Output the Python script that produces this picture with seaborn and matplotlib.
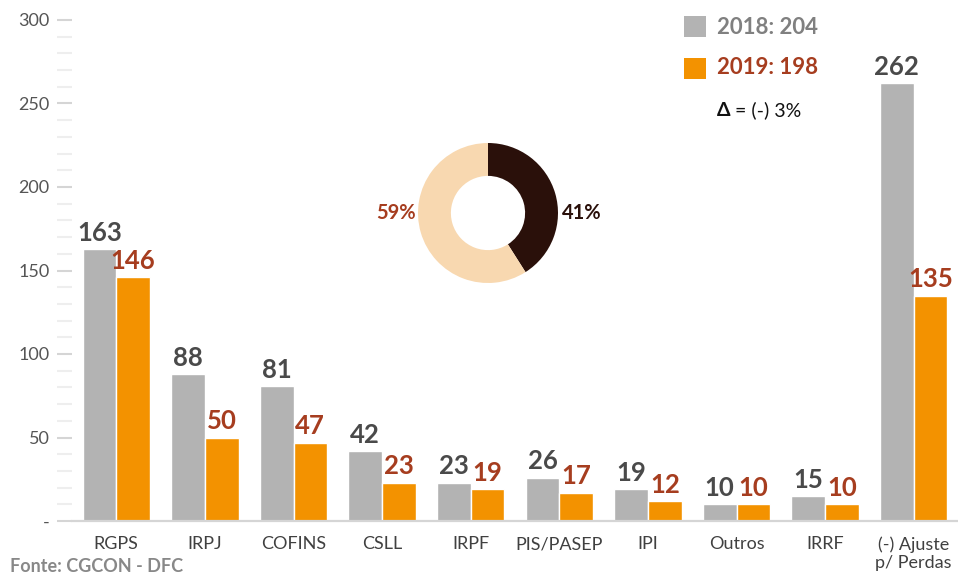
import matplotlib
matplotlib.use("Agg")
import matplotlib.pyplot as plt
from matplotlib.patches import Rectangle
from matplotlib.ticker import MultipleLocator
import seaborn as sns
import pandas as pd

categories = ["RGPS", "IRPJ", "COFINS", "CSLL", "IRPF", "PIS/PASEP", "IPI",
              "Outros", "IRRF", "(-) Ajuste\np/ Perdas"]
values_2018 = [163, 88, 81, 42, 23, 26, 19, 10, 15, 262]
values_2019 = [146, 50, 47, 23, 19, 17, 12, 10, 10, 135]
series = ["2018", "2019"]
totals = {"2018": 204, "2019": 198}
delta_text = "(-) 3%"
donut_values = [41, 59]
donut_labels = ["41%", "59%"]

GRAY = "#b3b3b3"
ORANGE = "#f39200"
GRAY_TXT = "#4a4a4a"
RUST = "#a63d1f"

sns.set_theme(style="white")
plt.rcParams["font.family"] = ["Lato", "DejaVu Sans"]

df = pd.DataFrame({
    "cat": categories * 2,
    "ano": [series[0]] * len(categories) + [series[1]] * len(categories),
    "val": values_2018 + values_2019,
})

fig = plt.figure(figsize=(9.58, 5.76), dpi=100)
ax = fig.add_axes([72 / 958, 1 - 521 / 576, 886 / 958, 501 / 576])
sns.barplot(data=df, x="cat", y="val", hue="ano", order=categories,
            hue_order=series, palette=[GRAY, ORANGE], width=0.76,
            saturation=1, ax=ax, legend=False)
ax.set_xlim(-0.5, len(categories) - 0.5)
ax.set_ylim(0, 300)
ax.set_xlabel("")
ax.set_ylabel("")

for cont, col in zip(ax.containers, [GRAY_TXT, RUST]):
    labels = [f"{int(b.get_height())}" for b in cont]
    ax.bar_label(cont, labels=labels, padding=3, color=col, fontsize=18.5,
                 fontweight="bold", clip_on=False)

for s in ["top", "right", "left"]:
    ax.spines[s].set_visible(False)
ax.spines["bottom"].set_color("#d5d5d5")
ax.spines["bottom"].set_linewidth(1.6)

ax.yaxis.set_minor_locator(MultipleLocator(10))
ax.set_yticks(range(0, 301, 50))
ax.set_yticklabels(["-"] + [str(v) for v in range(50, 301, 50)])
ax.tick_params(axis="y", which="major", length=11, width=1.5, color="#d5d5d5",
               labelsize=13, labelcolor="#555555", pad=5, left=True)
ax.tick_params(axis="y", which="minor", length=11, width=1.5, color="#eeeeee", left=True)
ax.tick_params(axis="x", length=0, labelsize=13, labelcolor="#404040", pad=11)
for lbl in ax.get_xticklabels():
    lbl.set_linespacing(1.15)
    lbl.set_verticalalignment("top")

# donut
dax = fig.add_axes([418 / 958, 1 - 283 / 576, 140 / 958, 140 / 576])
dax.pie(donut_values, colors=["#2a100a", "#f8d8b0"], startangle=90,
        counterclock=False, wedgeprops=dict(width=0.47, linewidth=0))
dax.set_xlim(-1, 1)
dax.set_ylim(-1, 1)
dax.set_aspect("equal")
fig.text(562 / 958, 1 - 213 / 576, donut_labels[0], color="#2a100a", fontsize=14.5,
         fontweight="bold", ha="left", va="center")
fig.text(416 / 958, 1 - 213 / 576, donut_labels[1], color=RUST, fontsize=14.5,
         fontweight="bold", ha="right", va="center")

# legend
fig.add_artist(Rectangle((684 / 958, 1 - 37 / 576), 22 / 958, 21 / 576,
                         transform=fig.transFigure, color=GRAY, lw=0))
fig.add_artist(Rectangle((684 / 958, 1 - 79 / 576), 22 / 958, 21 / 576,
                         transform=fig.transFigure, color=ORANGE, lw=0))
fig.text(717 / 958, 1 - 27 / 576, f"{series[0]}: {totals['2018']}", color="#808080",
         fontsize=16, fontweight="bold", va="center", ha="left")
fig.text(717 / 958, 1 - 68 / 576, f"{series[1]}: {totals['2019']}", color=RUST,
         fontsize=16, fontweight="bold", va="center", ha="left")
fig.text(717 / 958, 1 - 110 / 576, "Δ", color="#111111", fontsize=14,
         fontweight="bold", va="center", ha="left")
fig.text(735 / 958, 1 - 110 / 576, f"= {delta_text}", color="#111111", fontsize=14,
         va="center", ha="left")

fig.text(10 / 958, 1 - 566 / 576, "Fonte: CGCON - DFC", color="#888888", fontsize=13,
         fontweight="bold", va="center", ha="left")

fig.savefig("out.png", dpi=100)
